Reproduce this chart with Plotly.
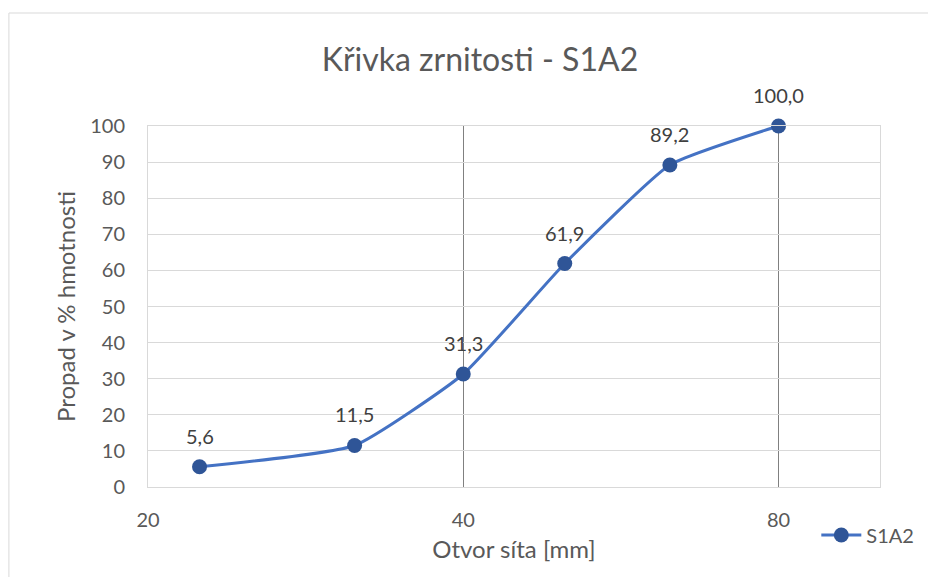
import math
import plotly.graph_objects as go

# sieve openings [mm] and passing [%]
sieve_mm = [22.4, 31.5, 40, 50, 63, 80]
passing = [5.6, 11.5, 31.3, 61.9, 89.2, 100.0]
labels = ["5,6", "11,5", "31,3", "61,9", "89,2", "100,0"]
x_ticks = [20, 40, 80]
y_ticks = list(range(0, 101, 10))

FONT = "Lato, 'Open Sans', sans-serif"

fig = go.Figure(go.Scatter(
    x=sieve_mm, y=passing, name="S1A2",
    mode="lines+markers",
    line=dict(color="#4472C4", width=3, shape="spline", smoothing=0.45),
    marker=dict(color="#2F5597", size=15),
    cliponaxis=False,
))

# data labels sit a bit higher above the markers than textposition allows
for xv, yv, lab in zip(sieve_mm, passing, labels):
    fig.add_annotation(x=math.log10(xv), y=yv, text=lab, showarrow=False,
                       yshift=31, yanchor="middle",
                       font=dict(size=20, color="#404040", family=FONT))

# page body has an 8px margin, so the figure is sized to fit the window
fig.update_layout(
    width=928, height=569,
    margin=dict(l=140, r=56, t=118, b=90),
    paper_bgcolor="white", plot_bgcolor="white",
    font=dict(family=FONT, color="#595959", size=20),
    title=dict(text="Křivka zrnitosti - S1A2", x=0.5086, xanchor="center",
               y=0.9086, yanchor="middle",
               font=dict(size=32, color="#595959", family=FONT)),
    showlegend=True,
    legend=dict(x=0.913, y=-0.133, xanchor="left", yanchor="middle",
                bgcolor="rgba(0,0,0,0)", font=dict(size=20, color="#595959"),
                itemwidth=40),
    xaxis=dict(
        type="log", range=[1.30103, 2.0], tickvals=x_ticks,
        ticktext=[str(v) for v in x_ticks],
        showgrid=True, gridcolor="#808080", gridwidth=1,
        showline=True, linecolor="#d9d9d9", linewidth=1, mirror=True,
        ticks="", ticklabelstandoff=15,
        title=dict(text="Otvor síta [mm]", standoff=11, font=dict(size=24)),
        zeroline=False,
    ),
    yaxis=dict(
        range=[0, 100], tickvals=y_ticks,
        showgrid=True, gridcolor="#d9d9d9", gridwidth=1,
        showline=True, linecolor="#d9d9d9", linewidth=1, mirror=True,
        ticks="", ticklabelstandoff=18,
        title=dict(text="Propad v % hmotnosti", standoff=7, font=dict(size=24)),
        zeroline=False,
    ),
    shapes=[dict(type="rect", xref="paper", yref="paper",
                 x0=-0.19, x1=1.2, y0=-0.4, y1=1.313,
                 line=dict(color="#d9d9d9", width=1), layer="below")],
)

fig.write_html("out.html")
